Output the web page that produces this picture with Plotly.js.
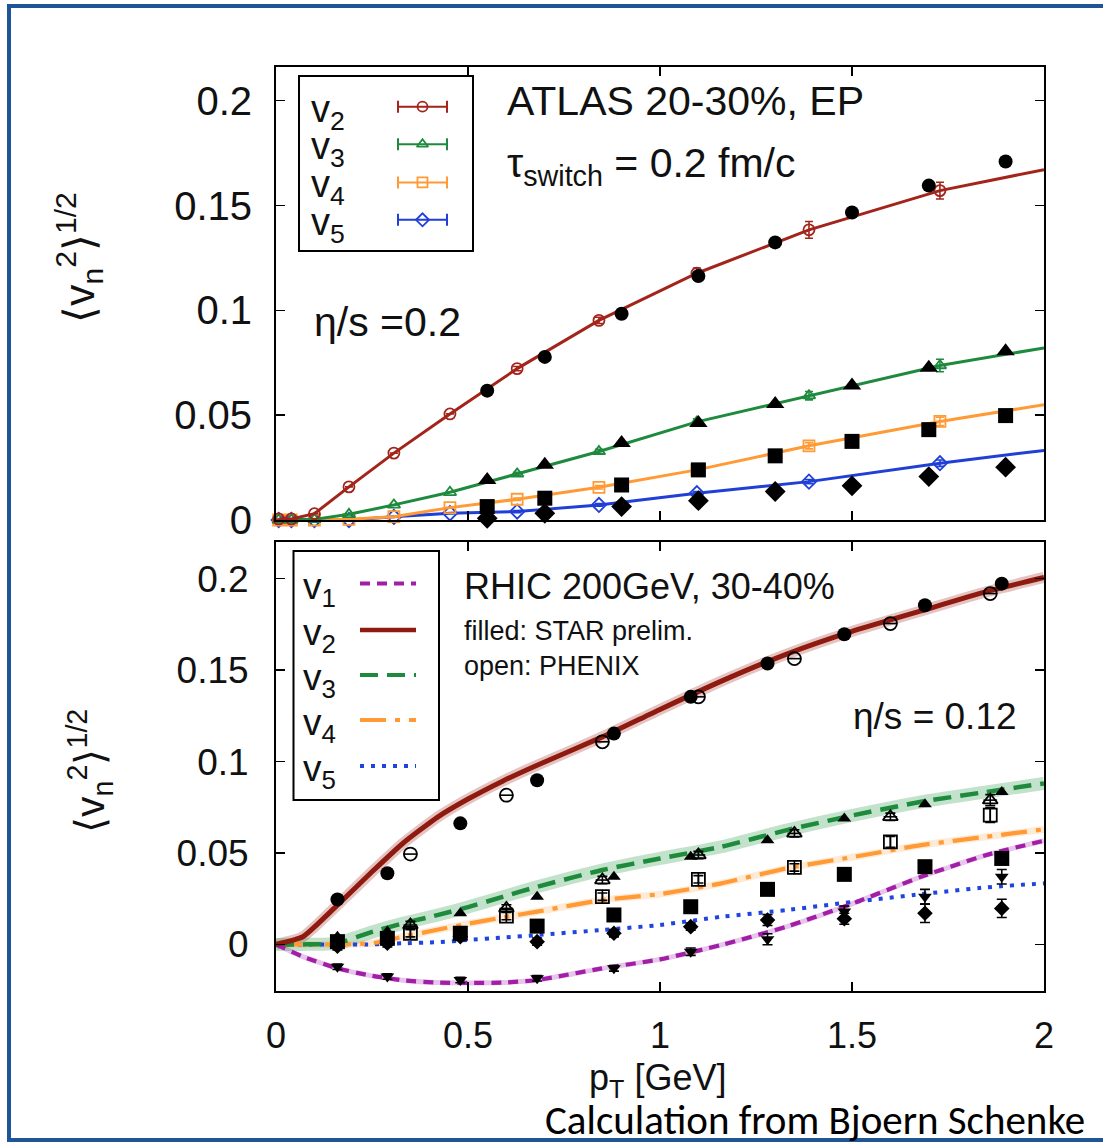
<!DOCTYPE html>
<html>
<head>
<meta charset="utf-8">
<script src="https://cdn.plot.ly/plotly-3.0.1.min.js"></script>
<style>
  html, body { margin: 0; padding: 0; background: #ffffff; }
  #chart { width: 1103px; height: 1142px; }
</style>
</head>
<body>
<div id="chart"></div>
<script>
// ---------------- ATLAS 20-30%, event plane (upper panel) ----------------
// hydro calculation, eta/s = 0.2 (last point only continues the line)
const atlasModelPt = [0.007, 0.04, 0.10, 0.19, 0.307, 0.453, 0.628, 0.841, 1.096, 1.388, 1.729, 2.0];
const atlasModelV2 = [0.0005, 0.0005, 0.0030, 0.0158, 0.0319, 0.0506, 0.0722, 0.0952, 0.1177, 0.1384, 0.1571, 0.1671];
const atlasModelV3 = [0.0000, 0.0000, 0.0003, 0.0027, 0.0072, 0.0132, 0.0220, 0.0327, 0.0468, 0.0593, 0.0737, 0.0821];
const atlasModelV4 = [0.0000, 0.0000, 0.0000, 0.0003, 0.0016, 0.0059, 0.0099, 0.0156, 0.0239, 0.0354, 0.0470, 0.0550];
const atlasModelV5 = [0.0000, 0.0000, 0.0000, 0.0000, 0.0015, 0.0032, 0.0040, 0.0072, 0.0128, 0.0183, 0.0271, 0.0332];
const atlasModelErrV2 = [0, 0, 0, 0, 0, 0, 0.0010, 0.0015, 0.0025, 0.0040, 0.0040];
const atlasModelErrV3 = [0, 0, 0, 0, 0, 0, 0.0008, 0.0010, 0.0015, 0.0020, 0.0030];
const atlasModelErrV4 = [0, 0, 0, 0, 0, 0, 0.0006, 0.0008, 0.0010, 0.0015, 0.0020];
const atlasModelErrV5 = [0, 0, 0, 0, 0, 0, 0.0005, 0.0006, 0.0008, 0.0010, 0.0015];

// ATLAS measurement
const atlasPt = [0.55, 0.70, 0.90, 1.10, 1.30, 1.50, 1.70, 1.90];
const atlasV2 = [0.0617, 0.0778, 0.0984, 0.1164, 0.1324, 0.1467, 0.1595, 0.1710];
const atlasV3 = [0.0191, 0.0263, 0.0367, 0.0463, 0.0553, 0.0641, 0.0726, 0.0805];
const atlasV4 = [0.0064, 0.0104, 0.0167, 0.0239, 0.0306, 0.0375, 0.0431, 0.0498];
const atlasV5 = [0.0008, 0.0032, 0.0064, 0.0092, 0.0136, 0.0163, 0.0207, 0.0252];

// ---------------- RHIC 200 GeV, 30-40% (lower panel) ----------------
// hydro calculation, eta/s = 0.12
const rhicModelPt = [0, 0.07, 0.16, 0.25, 0.33, 0.42, 0.50, 0.59, 0.68, 0.85, 1.00, 1.16, 1.33, 1.50, 1.68, 1.85, 2.00];
const rhicModelV1 = [0, -0.0067, -0.0131, -0.0172, -0.0196, -0.0209, -0.0211, -0.0209, -0.0195, -0.0131, -0.0082, -0.0003, 0.0097, 0.0222, 0.0370, 0.0489, 0.0567];
const rhicModelV2 = [0, 0.0042, 0.0215, 0.0397, 0.0552, 0.0695, 0.0795, 0.0893, 0.0980, 0.1135, 0.1285, 0.1440, 0.1588, 0.1712, 0.1824, 0.1929, 0.2007];
const rhicModelV3 = [0, 0, 0.0006, 0.0068, 0.0115, 0.0160, 0.0204, 0.0260, 0.0315, 0.0407, 0.0470, 0.0534, 0.0625, 0.0705, 0.0780, 0.0834, 0.0880];
const rhicModelV4 = [0, 0, 0, 0.0006, 0.0042, 0.0080, 0.0113, 0.0147, 0.0179, 0.0243, 0.0275, 0.0334, 0.0416, 0.0477, 0.0543, 0.0589, 0.0629];
const rhicModelV5 = [0, 0, 0, 0, 0.0006, 0.0012, 0.0024, 0.0037, 0.0051, 0.0079, 0.0106, 0.0151, 0.0188, 0.0232, 0.0275, 0.0312, 0.0334];

// STAR preliminary (filled symbols)
const starPt = [0.16, 0.29, 0.48, 0.68, 0.88, 1.08, 1.28, 1.48, 1.69, 1.89];
const starV1 = [-0.0122, -0.0176, -0.0195, -0.0185, -0.0131, -0.0040, 0.0028, 0.0180, 0.0261, 0.0370];
const starV2 = [0.0246, 0.0389, 0.0662, 0.0898, 0.1153, 0.1354, 0.1536, 0.1696, 0.1855, 0.1973];
const starV3 = [0.0042, 0.0070, 0.0170, 0.0261, 0.0370, 0.0479, 0.0570, 0.0689, 0.0767, 0.0834];
const starV4 = [0.0015, 0.0033, 0.0061, 0.0100, 0.0161, 0.0206, 0.0301, 0.0383, 0.0425, 0.0470];
const starV5 = [-0.0010, 0.0006, 0.0042, 0.0015, 0.0061, 0.0097, 0.0133, 0.0140, 0.0170, 0.0197];
const starErrV1 = [0.0015, 0.0015, 0.0015, 0.0015, 0.0015, 0.0020, 0.0030, 0.0030, 0.0040, 0.0040];
const starErrV5 = [0.0020, 0.0020, 0.0020, 0.0020, 0.0020, 0.0020, 0.0030, 0.0030, 0.0050, 0.0050];

// PHENIX (open symbols)
const phenixPt = [0.35, 0.60, 0.85, 1.10, 1.35, 1.60, 1.86];
const phenixV2 = [0.0494, 0.0816, 0.1108, 0.1354, 0.1563, 0.1755, 0.1919];
const phenixV3 = [0.0106, 0.0197, 0.0352, 0.0489, 0.0607, 0.0698, 0.0789];
const phenixV4 = [0.0061, 0.0155, 0.0261, 0.0356, 0.0421, 0.0561, 0.0707];
const phenixErrV3 = [0.0020, 0.0020, 0.0020, 0.0020, 0.0020, 0.0020, 0.0030];
const phenixErrV4 = [0.0020, 0.0020, 0.0020, 0.0020, 0.0020, 0.0030, 0.0040];

// axis ticks
const ptTicks = [0, 0.5, 1, 1.5, 2];
const ptTickText = ['0', '0.5', '1', '1.5', '2'];
const vnTicks = [0, 0.05, 0.1, 0.15, 0.2];
const vnTickText = ['0', '0.05', '0.1', '0.15', '0.2'];

// ---------------- styling ----------------
const W = 1103, H = 1142;
const fx = x => x / W;          // pixel -> paper (horizontal)
const fy = y => 1 - y / H;      // pixel -> paper (vertical)
const SANS = "'Liberation Sans', Arial, Helvetica, sans-serif";

const topCol = { v2: '#a3241a', v3: '#1e8a3e', v4: '#ff9a35', v5: '#1f3fd6' };
const botCol = { v1: '#a21ea6', v2: '#8e1a10', v3: '#1d8a3c', v4: '#ff9a35', v5: '#1f45e0' };

const traces = [];

// upper panel: calculation lines with open markers
function addTopModel(y, err, color, symbol) {
  traces.push({
    x: atlasModelPt, y: y, xaxis: 'x', yaxis: 'y', mode: 'lines',
    line: { color: color, width: 3 }, hoverinfo: 'skip', cliponaxis: false
  });
  traces.push({
    x: atlasModelPt.slice(0, -1), y: y.slice(0, -1), xaxis: 'x', yaxis: 'y', mode: 'markers',
    marker: { symbol: symbol + '-open', size: 11, color: color, line: { color: color, width: 1.8 } },
    error_y: { type: 'data', array: err, visible: true, color: color, thickness: 1.6, width: 4 },
    cliponaxis: false
  });
}
addTopModel(atlasModelV5, atlasModelErrV5, topCol.v5, 'diamond');
addTopModel(atlasModelV4, atlasModelErrV4, topCol.v4, 'square');
addTopModel(atlasModelV3, atlasModelErrV3, topCol.v3, 'triangle-up');
addTopModel(atlasModelV2, atlasModelErrV2, topCol.v2, 'circle');

function addFilled(x, y, xa, ya, symbol, size, err) {
  const t = {
    x: x, y: y, xaxis: xa, yaxis: ya, mode: 'markers',
    marker: { symbol: symbol, size: size, color: '#000000', line: { width: 0 } },
    cliponaxis: false
  };
  if (err) t.error_y = { type: 'data', array: err, visible: true, color: '#000', thickness: 1.6, width: 5 };
  traces.push(t);
}
addFilled(atlasPt, atlasV2, 'x', 'y', 'circle', 14);
addFilled(atlasPt, atlasV3, 'x', 'y', 'triangle-up', 16);
addFilled(atlasPt, atlasV4, 'x', 'y', 'square', 15);
addFilled(atlasPt, atlasV5, 'x', 'y', 'diamond', 16);

// lower panel: soft uncertainty bands under the calculation curves
function addBand(y, rgba, width) {
  traces.push({
    x: rhicModelPt, y: y, xaxis: 'x2', yaxis: 'y2', mode: 'lines',
    line: { color: rgba, width: width, shape: 'spline', smoothing: 0.5 }, hoverinfo: 'skip'
  });
}
addBand(rhicModelV1, 'rgba(185,90,200,0.35)', 5);
addBand(rhicModelV2, 'rgba(160,40,30,0.28)', 11);
addBand(rhicModelV3, 'rgba(40,150,70,0.28)', 13);
addBand(rhicModelV4, 'rgba(255,160,70,0.22)', 7);

function addCurve(y, color, width, dash) {
  traces.push({
    x: rhicModelPt, y: y, xaxis: 'x2', yaxis: 'y2', mode: 'lines',
    line: { color: color, width: width, dash: dash, shape: 'spline', smoothing: 0.5 }, hoverinfo: 'skip'
  });
}
addCurve(rhicModelV5, botCol.v5, 4, '4px,7px');
addCurve(rhicModelV4, botCol.v4, 4.2, '26px,9px,5px,9px');
addCurve(rhicModelV3, botCol.v3, 4.5, '18px,9px');
addCurve(rhicModelV1, botCol.v1, 4.2, '10px,7px');
addCurve(rhicModelV2, botCol.v2, 5, 'solid');

// STAR (filled)
addFilled(starPt, starV2, 'x2', 'y2', 'circle', 14);
addFilled(starPt, starV3, 'x2', 'y2', 'triangle-up', 12);
addFilled(starPt, starV4, 'x2', 'y2', 'square', 15);
addFilled(starPt, starV5, 'x2', 'y2', 'diamond', 12, starErrV5);
addFilled(starPt, starV1, 'x2', 'y2', 'triangle-down', 12, starErrV1);

// PHENIX (open, with an inner bar)
function addOpen(x, y, symbol, inner, size, err) {
  const t = {
    x: x, y: y, xaxis: 'x2', yaxis: 'y2', mode: 'markers',
    marker: { symbol: symbol, size: size, color: '#000', line: { color: '#000', width: 1.8 } },
    cliponaxis: false
  };
  if (err) t.error_y = { type: 'data', array: err, visible: true, color: '#000', thickness: 1.6, width: 5 };
  traces.push(t);
  traces.push({
    x: x, y: y, xaxis: 'x2', yaxis: 'y2', mode: 'markers', hoverinfo: 'skip',
    marker: { symbol: inner, size: size * 0.75, color: '#000', line: { color: '#000', width: 1.6 } },
    cliponaxis: false
  });
}
addOpen(phenixPt, phenixV2, 'circle-open', 'line-ew', 13);
addOpen(phenixPt, phenixV3, 'triangle-up-open', 'line-ew', 13, phenixErrV3);
addOpen(phenixPt, phenixV4, 'square-open', 'line-ns', 13, phenixErrV4);

// ---------------- legend keys (drawn on a full-page pixel overlay) ----------------
const topKeys = [
  { y: 106.7, color: topCol.v2, symbol: 'circle-open', label: 'v<sub>2</sub>' },
  { y: 144.2, color: topCol.v3, symbol: 'triangle-up-open', label: 'v<sub>3</sub>' },
  { y: 182.4, color: topCol.v4, symbol: 'square-open', label: 'v<sub>4</sub>' },
  { y: 219.8, color: topCol.v5, symbol: 'diamond-open', label: 'v<sub>5</sub>' }
];
topKeys.forEach(k => {
  traces.push({
    x: [422.5], y: [k.y], xaxis: 'x3', yaxis: 'y3', mode: 'markers', hoverinfo: 'skip',
    marker: { symbol: k.symbol, size: 10, color: k.color, line: { color: k.color, width: 1.8 } },
    error_x: { type: 'constant', value: 24.5, visible: true, color: k.color, thickness: 2, width: 6 },
    cliponaxis: false
  });
});
const botKeys = [
  { y: 583.5, color: botCol.v1, dash: '10px,7px', width: 4.2, label: 'v<sub>1</sub>' },
  { y: 630.0, color: botCol.v2, dash: 'solid', width: 4.5, label: 'v<sub>2</sub>' },
  { y: 675.0, color: botCol.v3, dash: '18px,9px', width: 4.2, label: 'v<sub>3</sub>' },
  { y: 720.0, color: botCol.v4, dash: '26px,9px,5px,9px', width: 4.2, label: 'v<sub>4</sub>' },
  { y: 766.0, color: botCol.v5, dash: '4px,7px', width: 4, label: 'v<sub>5</sub>' }
];
botKeys.forEach(k => {
  traces.push({
    x: [360, 416], y: [k.y, k.y], xaxis: 'x3', yaxis: 'y3', mode: 'lines', hoverinfo: 'skip',
    line: { color: k.color, width: k.width, dash: k.dash }, cliponaxis: false
  });
});

// ---------------- text ----------------
function txt(x, y, text, size, opts) {
  return Object.assign({
    xref: 'paper', yref: 'paper', x: fx(x), y: fy(y), text: text, showarrow: false,
    xanchor: 'left', yanchor: 'middle', font: { family: SANS, size: size, color: '#111111' }
  }, opts || {});
}
const vnTitle = '⟨v<sub>n</sub><sup>2</sup>⟩<sup>1/2</sup>';
const annotations = [
  txt(505, 101, 'ATLAS 20-30%, EP', 41),
  txt(505, 166, 'τ<sub>switch</sub> = 0.2 fm/c', 41),
  txt(312, 322, 'η/s =0.2', 41),
  txt(462, 587, 'RHIC 200GeV, 30-40%', 36),
  txt(462, 631, 'filled: STAR prelim.', 27),
  txt(462, 666, 'open: PHENIX', 27),
  txt(1019, 716, 'η/s = 0.12', 37, { xanchor: 'right' }),
  txt(657, 1080, 'p<sub>T</sub> [GeV]', 36, { xanchor: 'center' }),
  txt(79, 258, vnTitle, 43, { xanchor: 'center', textangle: -90 }),
  txt(90, 771, vnTitle, 41, { xanchor: 'center', textangle: -90 }),
  txt(543, 1120, 'Calculation from Bjoern Schenke', 41,
      { font: { family: 'Carlito, Lato, sans-serif', size: 41, color: '#000' } })
];
topKeys.forEach(k => annotations.push(txt(309, k.y + 5, k.label, 38)));
botKeys.forEach(k => annotations.push(txt(301, k.y + 5, k.label, 37)));

// ---------------- frames ----------------
const shapes = [
  { type: 'rect', xref: 'paper', yref: 'paper', x0: fx(299), x1: fx(473), y0: fy(251), y1: fy(76),
    line: { color: '#000', width: 2 } },
  { type: 'rect', xref: 'paper', yref: 'paper', x0: fx(293.5), x1: fx(439), y0: fy(800), y1: fy(551),
    line: { color: '#000', width: 2 } },
  { type: 'rect', xref: 'paper', yref: 'paper', x0: fx(9), x1: fx(1120), y0: fy(1140), y1: fy(6),
    line: { color: '#1f5596', width: 4 } }
];

// ---------------- axes ----------------
const axisBase = {
  showline: true, linecolor: '#000', linewidth: 2, mirror: 'allticks',
  ticks: 'inside', ticklen: 9, tickwidth: 1.5, tickcolor: '#000',
  showgrid: false, zeroline: false, fixedrange: true
};
const xDomain = [fx(276), fx(1044)];

const layout = {
  width: W, height: H,
  margin: { l: 0, r: 0, t: 0, b: 0, pad: 0 },
  paper_bgcolor: '#ffffff', plot_bgcolor: 'rgba(0,0,0,0)',
  showlegend: false,
  xaxis: Object.assign({}, axisBase, {
    domain: xDomain, anchor: 'y', range: [0, 2],
    tickmode: 'array', tickvals: ptTicks, showticklabels: false
  }),
  yaxis: Object.assign({}, axisBase, {
    domain: [fy(520), fy(66.5)], anchor: 'x', range: [0, 0.2163],
    tickmode: 'array', tickvals: vnTicks, ticktext: vnTickText,
    tickfont: { family: SANS, size: 40, color: '#111' }, ticklabelstandoff: 14
  }),
  xaxis2: Object.assign({}, axisBase, {
    domain: xDomain, anchor: 'y2', range: [0, 2],
    tickmode: 'array', tickvals: ptTicks, ticktext: ptTickText,
    tickfont: { family: SANS, size: 36, color: '#111' }, ticklabelstandoff: 12
  }),
  yaxis2: Object.assign({}, axisBase, {
    domain: [fy(991.2), fy(541.8)], anchor: 'x2', range: [-0.0256, 0.2202],
    tickmode: 'array', tickvals: vnTicks, ticktext: vnTickText,
    tickfont: { family: SANS, size: 37, color: '#111' }, ticklabelstandoff: 18
  }),
  xaxis3: { domain: [0, 1], anchor: 'y3', range: [0, W], visible: false, fixedrange: true },
  yaxis3: { domain: [0, 1], anchor: 'x3', range: [H, 0], visible: false, fixedrange: true },
  annotations: annotations,
  shapes: shapes
};

Plotly.newPlot('chart', traces, layout, { staticPlot: true, displayModeBar: false });
</script>
</body>
</html>
